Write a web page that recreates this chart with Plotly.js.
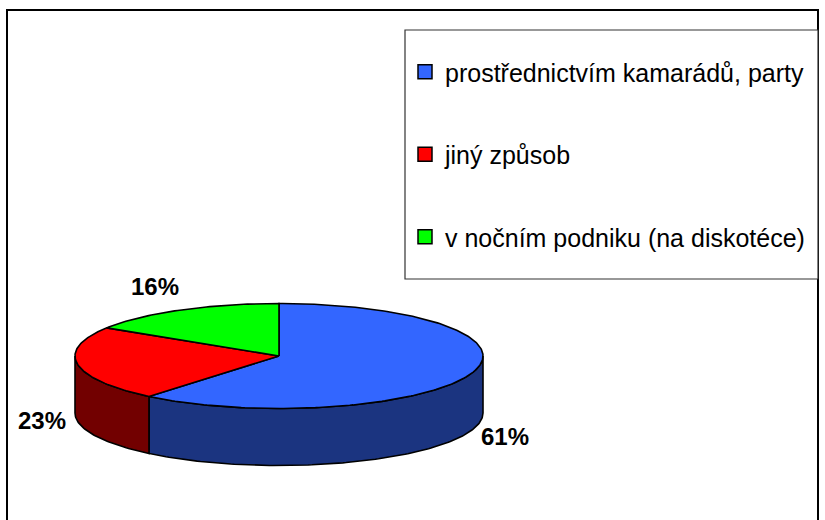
<!DOCTYPE html>
<html><head><meta charset="utf-8">
<script src="https://cdn.plot.ly/plotly-3.0.1.min.js"></script>
<style>html,body{margin:0;padding:0;background:#fff}</style>
</head><body><div id="chart" style="width:825px;height:520px"></div>
<script>
const categories = ['prostřednictvím kamarádů, party', 'jiný způsob', 'v nočním podniku (na diskotéce)'];
const values = [61, 23, 16];
const pctLabels = ['61%', '23%', '16%'];
const topColors = ['#3366FF', '#FF0000', '#00FF00'];
const sideColors = ['#1B3480', '#720000', '#008000'];

// 3D pie geometry (pixel space of the axes)
const cx = 279, cy = 356, ra = 204, rb = 52.5, depth = 57;
const total = values.reduce((s, v) => s + v, 0);
const rad = d => d * Math.PI / 180;
const px = t => cx + ra * Math.cos(rad(t));
const py = (t, off) => cy - rb * Math.sin(rad(t)) + (off || 0);

function arc(from, to, off) {
  const xs = [], ys = [];
  const n = Math.max(2, Math.ceil(Math.abs(to - from)));
  for (let k = 0; k <= n; k++) {
    const t = from + (to - from) * k / n;
    xs.push(px(t)); ys.push(py(t, off));
  }
  return [xs, ys];
}

const walls = [], tops = [], annotations = [];
let cum = 0;
values.forEach((v, i) => {
  const t0 = 90 - 360 * cum / total;
  const t1 = t0 - 360 * v / total;
  cum += v;
  [-720, -360, 0].forEach(k => {
    const lo = Math.max(t1, -180 + k), hi = Math.min(t0, 0 + k);
    if (hi > lo) {
      const [ax, ay] = arc(lo, hi, 0);
      const [bx, by] = arc(hi, lo, depth);
      walls.push({
        type: 'scatter', mode: 'lines', fill: 'toself',
        x: ax.concat(bx, [ax[0]]), y: ay.concat(by, [ay[0]]),
        fillcolor: sideColors[i], line: {color: '#000', width: 1.6},
        showlegend: false, hoverinfo: 'skip'
      });
    }
  });
  const [tx, ty] = arc(t0, t1, 0);
  tops.push({
    type: 'scatter', mode: 'lines', fill: 'toself',
    x: [cx].concat(tx, [cx]), y: [cy].concat(ty, [cy]),
    fillcolor: topColors[i], line: {color: '#000', width: 1.6},
    showlegend: false, hoverinfo: 'skip'
  });
  const mid = (t0 + t1) / 2;
  const s = Math.sin(rad(mid)), c = Math.cos(rad(mid));
  const back = s >= 0;
  annotations.push({
    x: cx + (back ? 257 : 240) * c,
    y: back ? cy - 79 * s : cy - 87 * s + 51,
    xref: 'x', yref: 'y', text: '<b>' + pctLabels[i] + '</b>', showarrow: false,
    font: {family: 'Liberation Sans, Arial, sans-serif', size: 24, color: '#000'}
  });
});

const legendTraces = categories.map((c, i) => ({
  type: 'scatter', mode: 'markers', x: [null], y: [null], name: c,
  legendgroup: 'g' + i,
  marker: {symbol: 'square', size: 14, color: topColors[i], line: {color: '#000', width: 1.5}},
  hoverinfo: 'skip'
}));

const layout = {
  width: 825, height: 520,
  margin: {l: 0, r: 0, t: 0, b: 0},
  paper_bgcolor: '#fff', plot_bgcolor: '#fff',
  xaxis: {range: [0, 825], visible: false, fixedrange: true},
  yaxis: {range: [520, 0], visible: false, fixedrange: true},
  showlegend: true,
  legend: {
    x: 405 / 825, y: 1 - 49 / 520, xanchor: 'left', yanchor: 'top',
    bgcolor: 'rgba(0,0,0,0)', borderwidth: 0,
    font: {family: 'Liberation Sans, Arial, sans-serif', size: 25, color: '#000'},
    traceorder: 'grouped', tracegroupgap: 47, itemwidth: 30
  },
  annotations: annotations,
  shapes: [
    {type: 'rect', xref: 'x', yref: 'y', x0: 7, y0: 10, x1: 818, y1: 540,
     line: {color: '#000', width: 2}, layer: 'below'},
    {type: 'rect', xref: 'x', yref: 'y', x0: 405, y0: 30, x1: 818, y1: 279,
     line: {color: '#333', width: 1.2}, fillcolor: '#fff', layer: 'above'}
  ]
};

Plotly.newPlot('chart', walls.concat(tops, legendTraces), layout, {displayModeBar: false, staticPlot: true});
</script></body></html>
